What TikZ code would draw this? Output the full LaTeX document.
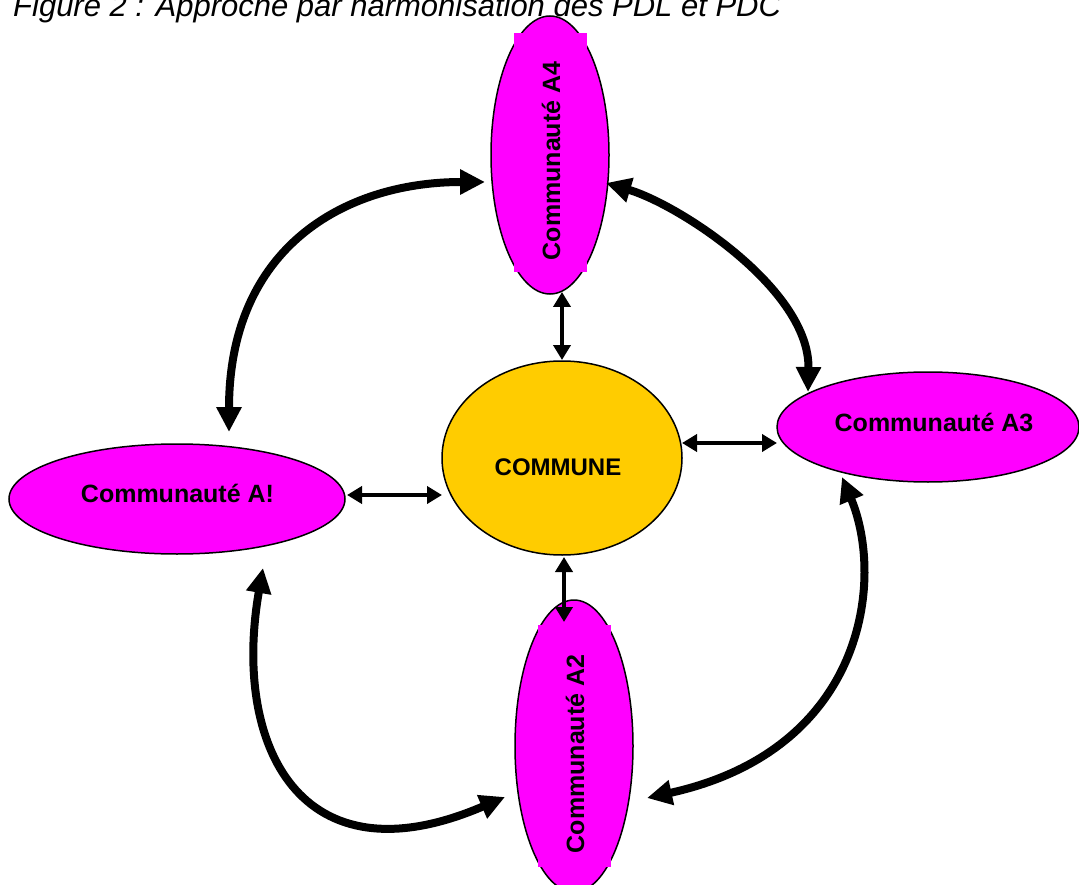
\documentclass[tikz,border=0pt]{standalone}
\usepackage{fontspec}
\setmainfont{Liberation Sans}
\usetikzlibrary{shapes.geometric,arrows.meta,calc}
\definecolor{pinkfill}{HTML}{FF00FF}
\definecolor{communefill}{HTML}{FFCC00}
\begin{document}
\begin{tikzpicture}[x=1pt,y=-1pt,
  oval/.style={ellipse,draw=black,line width=1.5pt,inner sep=0pt,outer sep=0pt},
  commu/.style={oval,fill=pinkfill},
  lbl/.style={inner sep=0pt,font=\fontsize{25}{30}\selectfont\bfseries,
              text height=18pt,text depth=0pt},
  link/.style={line width=4pt,{Triangle[length=15pt,width=17pt]}-{Triangle[length=15pt,width=17pt]}},
  loop/.style={line width=8pt,{Triangle[length=25pt,width=24pt]}-{Triangle[length=25pt,width=24pt]}}]
\useasboundingbox (0,0) rectangle (1079,885);

% title
\node[anchor=base west,inner sep=0pt,font=\fontsize{31}{36}\selectfont\itshape] (title) at (13,17)
  {Figure 2 : Approche par harmonisation des PDL et PDC};

% the commune in the middle
\node[oval,fill=communefill,minimum width=240pt,minimum height=194pt] (commune) at (562,458) {};
\node[lbl,font=\fontsize{24}{30}\selectfont\bfseries,text height=17.2pt] (communetxt) at (558,467) {COMMUNE};

% the four communities
\node[commu,minimum width=118pt,minimum height=278pt] (a4) at (550,155) {};
\fill[pinkfill] (514,33) rectangle (587,272);
\node[lbl,rotate=90] (a4txt) at (551,161) {Communauté A4};

\node[commu,minimum width=302pt,minimum height=110pt] (a3) at (928,427) {};
\node[lbl] (a3txt) at (934,422) {Communauté A3};

\node[commu,minimum width=336pt,minimum height=110pt] (a1) at (177,499) {};
\node[lbl] (a1txt) at (177.5,493) {Communauté A!};

\node[commu,minimum width=118pt,minimum height=292pt] (a2) at (574,746) {};
\fill[pinkfill] (538,625) rectangle (611,867);
\node[lbl,rotate=90] (a2txt) at (575,754) {Communauté A2};

% links between the commune and each community
\draw[link] ($(a4.center)+(12,137)$) -- ($(commune.center)+(0,-98)$);
\draw[link] ($(commune.center)+(120,-15)$) -- ($(a3.center)+(-151,16)$);
\draw[link] ($(a1.center)+(170,-4)$) -- ($(commune.center)+(-120,37)$);
\draw[link] ($(commune.center)+(2,99)$) -- ($(a2.center)+(-10,-124)$);

% links between neighbouring communities
\draw[loop] ($(a4.center)+(-65,27)$) .. controls (344,182) and (229,248) .. ($(a1.center)+(52,-67)$);
\draw[loop] ($(a4.center)+(56,28)$) .. controls (680,205) and (810,290) .. ($(a3.center)+(-120,-35)$);
\draw[loop] ($(a3.center)+(-86,50)$) .. controls (885,580) and (865,750) .. ($(a2.center)+(73,52)$);
\draw[loop] ($(a1.center)+(86,69)$) .. controls (232,745) and (300,885) .. ($(a2.center)+(-69,51)$);
\end{tikzpicture}
\end{document}
